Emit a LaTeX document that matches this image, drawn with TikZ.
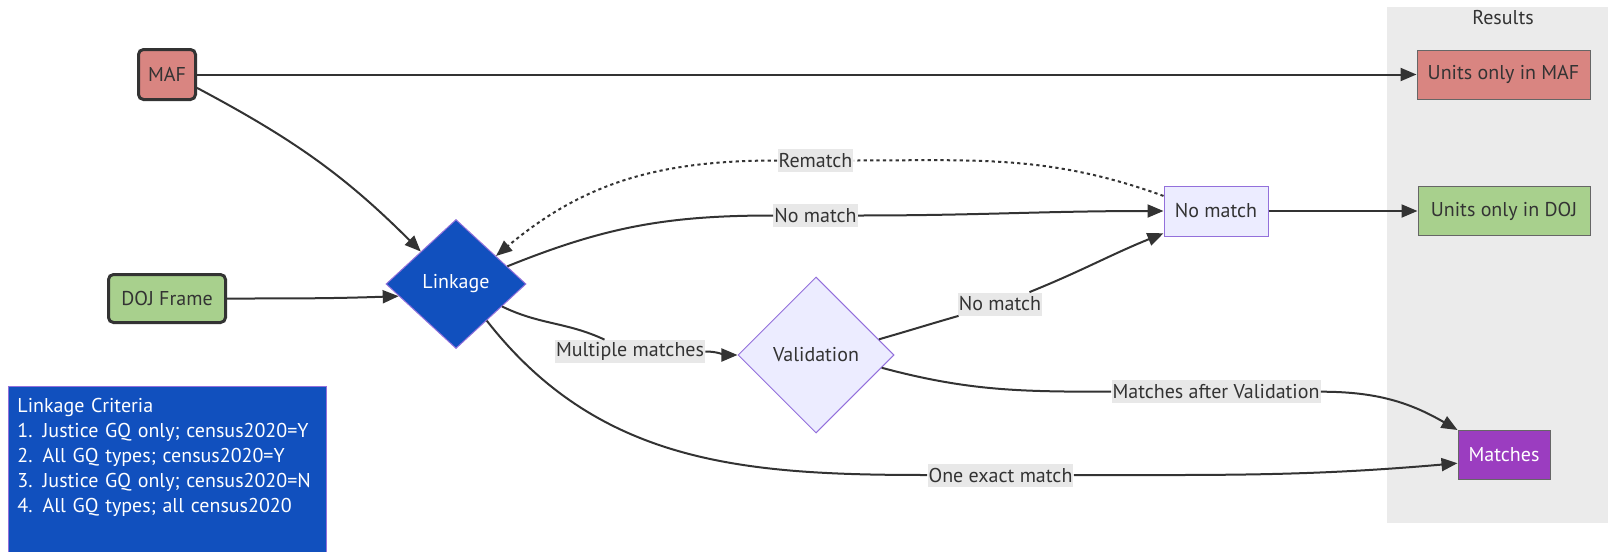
\documentclass[tikz,border=0pt]{standalone}
\usepackage{fontspec}
\setmainfont{PT Sans}
\usetikzlibrary{arrows.meta,calc,positioning,shapes.geometric}
\definecolor{mafred}{RGB}{217,133,129}
\definecolor{dojgreen}{RGB}{168,208,141}
\definecolor{linkblue}{RGB}{17,80,190}
\definecolor{matchpurple}{RGB}{155,61,192}
\definecolor{lavender}{HTML}{ECECFF}
\definecolor{lilac}{HTML}{9370DB}
\definecolor{ink}{HTML}{333333}
\definecolor{clustergrey}{RGB}{235,235,235}
\definecolor{labelgrey}{RGB}{232,232,232}
\tikzstyle{arrow}=[
  color=ink,
  draw=ink,
  line width=1pt,
]
\tikzstyle{rematch}=[
  dash pattern=on 1.6pt off 1.6pt,
]
\tikzstyle{source}=[
  rectangle,
  draw=ink,
  line width=1.5pt,
  rounded corners=2.5pt,
  text=ink,
  inner sep=0pt,
  minimum height=25pt,
]
\tikzstyle{result}=[
  rectangle,
  draw=black!60,
  line width=0.5pt,
  text=ink,
  inner sep=0pt,
  minimum height=24.5pt,
]
\tikzstyle{decision}=[
  diamond,
  draw=lilac,
  line width=0.5pt,
  inner sep=0pt,
]
\tikzstyle{edgelabel}=[
  fill=labelgrey,
  text=ink,
  inner xsep=0.5pt,
  inner ysep=0pt,
  minimum height=11.5pt,
]
\tikzstyle{cluster}=[
  rectangle,
  fill=clustergrey,
  inner sep=0pt,
]
\tikzstyle{criteria}=[
  rectangle,
  fill=linkblue,
  draw=lilac,
  line width=0.5pt,
  text=white,
  align=left,
  text width=150pt,
  inner xsep=4.5pt,
  inner ysep=6pt,
]
\tikzset{
  >={Triangle[length=8pt,width=6.5pt]},
  every node/.style={font=\fontsize{10}{12.5}\selectfont},
}

\begin{document}
\begin{tikzpicture}[x=0.5pt,y=0.5pt]
  \useasboundingbox (0,0) rectangle (1608,-552);
  % results group
  \node [cluster, anchor=north west, minimum width=117pt, minimum height=258pt] (RESULTS) at (1387,-7) {};
  \node [text=ink] (RESTITLE) at (1503,-18) {Results};
  % frames and decisions
  \node [source, fill=mafred, minimum width=28.5pt] (MAF) at (167,-74.5) {MAF};
  \node [source, fill=dojgreen, minimum width=58.5pt, minimum height=24pt] (DOJ) at (167,-298.5) {DOJ Frame};
  \node [decision, fill=linkblue, text=white, minimum width=70pt, minimum height=64.5pt] (LINKAGE) at (456,-284) {Linkage};
  \node [decision, fill=lavender, text=ink, minimum width=78pt, minimum height=78pt] (VALID) at (816,-355) {Validation};
  \node [result, fill=lavender, draw=lilac, minimum width=52pt, minimum height=25pt] (NOMATCH) at (1216,-211) {No match};
  % outcomes
  \node [result, fill=mafred, minimum width=86.5pt] (ONLYMAF) at (1503.5,-74.5) {Units only in MAF};
  \node [result, fill=dojgreen, minimum width=86pt] (ONLYDOJ) at (1504,-211) {Units only in DOJ};
  \node [result, fill=matchpurple, text=white, minimum width=46pt] (MATCHES) at (1504,-455) {Matches};
  \node [criteria, anchor=north west] (CRITERIA) at (8,-386) {Linkage Criteria\\
    1. Justice GQ only; census2020=Y\\
    2. All GQ types; census2020=Y\\
    3. Justice GQ only; census2020=N\\
    4. All GQ types; all census2020\\ ~\\ ~};
  % edge labels
  \node [edgelabel] (REMATCHLBL) at (815.5,-160.5) {Rematch};
  \node [edgelabel] (NOMATCHLBL) at (815.5,-215.5) {No match};
  \node [edgelabel] (MULTILBL) at (630,-351.5) {Multiple matches};
  \node [edgelabel] (NOMATCHLBLB) at (1000,-304) {No match};
  \node [edgelabel] (AFTERLBL) at (1216,-391.7) {Matches after Validation};
  \node [edgelabel] (EXACTLBL) at (1000.5,-475) {One exact match};
  % connectors
  \draw [arrow, ->] (MAF) -- (ONLYMAF);
  \draw [arrow, ->] (MAF.-24) to [out=-28,in=135] (LINKAGE.north west);
  \draw [arrow, ->] (DOJ) to [out=0,in=182] (LINKAGE.192);
  \draw [arrow, ->] (LINKAGE.19) to [out=22,in=180] (NOMATCHLBL) to [out=0,in=180] (NOMATCH);
  \draw [arrow, rematch, ->] (NOMATCH.164) to [out=160,in=0] (REMATCHLBL) to [out=180,in=40] (LINKAGE.35);
  \draw [arrow, ->] (LINKAGE.-26) to [out=-26,in=155] (MULTILBL) to [out=0,in=180] (VALID);
  \draw [arrow, ->] (VALID.14) to [out=16,in=196] (NOMATCHLBLB) to [out=22,in=202] (NOMATCH.203);
  \draw [arrow, ->] (VALID.-11) to [out=-15,in=180] (AFTERLBL) to [out=0,in=150] (MATCHES.north west);
  \draw [arrow, ->] (LINKAGE.-50) to [out=-52,in=180] (EXACTLBL) to [out=0,in=185] (MATCHES.190);
  \draw [arrow, ->] (NOMATCH) -- (ONLYDOJ);
\end{tikzpicture}
\end{document}
